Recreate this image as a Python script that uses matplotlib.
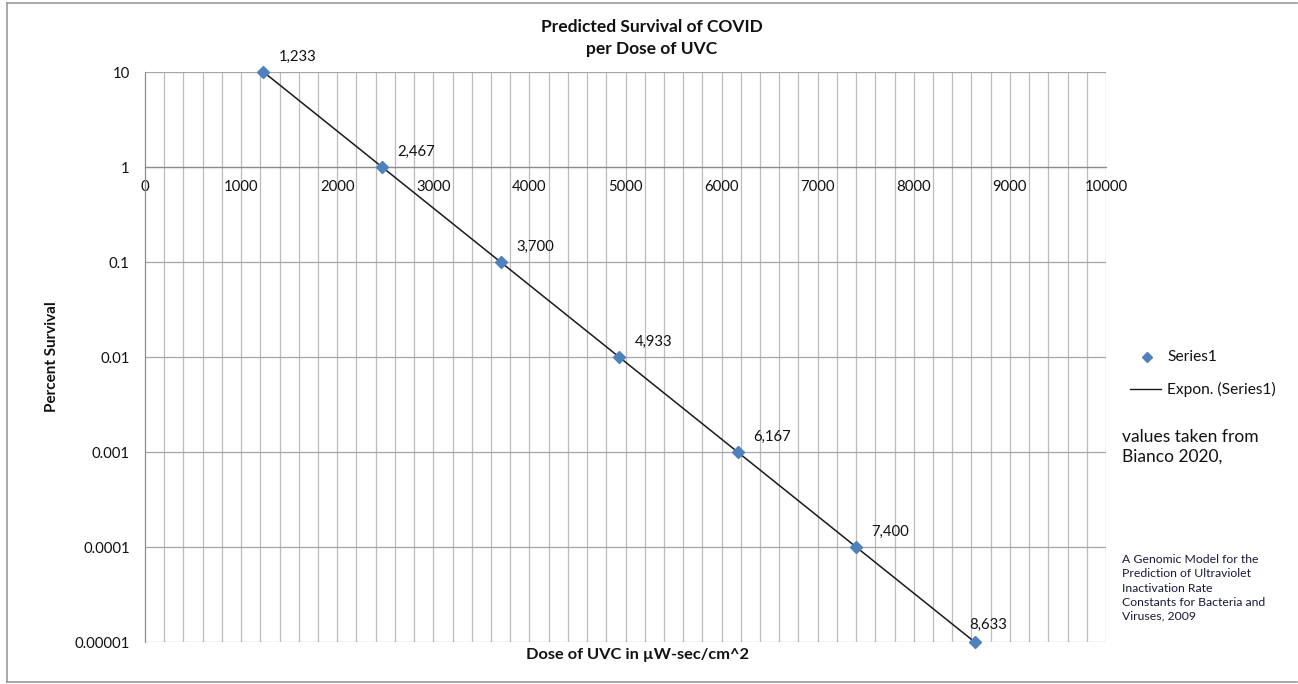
import numpy as np
import matplotlib
matplotlib.use("Agg")
import matplotlib.pyplot as plt
from matplotlib.lines import Line2D

dose = [1233, 2467, 3700, 4933, 6167, 7400, 8633]
survival = [10, 1, 0.1, 0.01, 0.001, 0.0001, 0.00001]
point_labels = ["1,233", "2,467", "3,700", "4,933", "6,167", "7,400", "8,633"]
y_ticks = [10, 1, 0.1, 0.01, 0.001, 0.0001, 0.00001]
y_tick_labels = ["10", "1", "0.1", "0.01", "0.001", "0.0001", "0.00001"]
x_ticks = [0, 1000, 2000, 3000, 4000, 5000, 6000, 7000, 8000, 9000, 10000]

plt.rcParams['font.family'] = ['Lato', 'DejaVu Sans']

W, H = 1298, 684
fig = plt.figure(figsize=(W / 100, H / 100), dpi=100)
fig.patch.set_facecolor('white')

def fx(px):
    return px / W

def fy(py):
    return 1 - py / H

# outer chart border
fig.add_artist(Line2D([fx(7), fx(1297)], [fy(3), fy(3)], color='#9a9a9a', lw=1.2))
fig.add_artist(Line2D([fx(7), fx(7)], [fy(3), fy(682)], color='#9a9a9a', lw=1.2))
fig.add_artist(Line2D([fx(7), fx(1297)], [fy(682), fy(682)], color='#9a9a9a', lw=1.2))

ax = fig.add_axes([fx(145), fy(642), fx(1106 - 145), (642 - 72) / H])
ax.set_yscale('log')
ax.set_xlim(0, 10000)
ax.set_ylim(1e-5, 10)

# gridlines
for xv in np.arange(200, 10001, 200):
    ax.axvline(xv, color='#bcbcbc', lw=0.9, zorder=1)
for yv in y_ticks:
    ax.axhline(yv, color='#a6a6a6', lw=0.9, zorder=1)

ax.set_yticks(y_ticks)
ax.set_yticklabels(y_tick_labels)
ax.yaxis.set_minor_locator(matplotlib.ticker.NullLocator())
ax.set_xticks(x_ticks)
ax.set_xticklabels([str(v) for v in x_ticks])
ax.tick_params(axis='both', length=0, labelsize=10.7, colors='#111111')
ax.tick_params(axis='y', pad=11)
ax.tick_params(axis='x', pad=9)

for s in ['top', 'right']:
    ax.spines[s].set_visible(False)
ax.spines['left'].set_color('#8c8c8c')
ax.spines['bottom'].set_color('#8c8c8c')
ax.spines['bottom'].set_position(('data', 1))
ax.spines['left'].set_linewidth(0.9)
ax.spines['bottom'].set_linewidth(0.9)

# exponential trendline
coef = np.polyfit(dose, np.log10(survival), 1)
xt = np.linspace(dose[0], dose[-1], 200)
ax.plot(xt, 10 ** np.polyval(coef, xt), color='#1a1a1a', lw=1.1, zorder=3)

ax.plot(dose, survival, linestyle='none', marker='D', markersize=6,
        color='#4F81BD', markeredgecolor='#4F81BD', zorder=4, clip_on=False)

for i, (xv, yv, lab) in enumerate(zip(dose, survival, point_labels)):
    off = (11, 11) if i < len(dose) - 1 else (-4, 12)
    ax.annotate(lab, (xv, yv), xytext=off, textcoords='offset points',
                fontsize=10.7, color='#111111', ha='left', va='center',
                annotation_clip=False)

# titles
fig.text(fx(652), fy(27), "Predicted Survival of COVID", ha='center', va='center',
         fontsize=12.5, fontweight='bold', color='#111111')
fig.text(fx(652), fy(49), "per Dose of UVC", ha='center', va='center',
         fontsize=12.5, fontweight='bold', color='#111111')
fig.text(fx(52), fy(357), "Percent Survival", ha='center', va='center', rotation=90,
         fontsize=11, fontweight='bold', color='#111111')
fig.text(fx(638), fy(655), "Dose of UVC in µW-sec/cm^2", ha='center', va='center',
         fontsize=11.8, fontweight='bold', color='#111111')

# legend
fig.add_artist(Line2D([fx(1147)], [fy(357)], marker='D', markersize=5.5, color='#4F81BD',
                      linestyle='none'))
fig.text(fx(1167), fy(357), "Series1", ha='left', va='center', fontsize=11.2, color='#111111')
fig.add_artist(Line2D([fx(1130), fx(1161)], [fy(389), fy(389)], color='#1a1a1a', lw=1.0))
fig.text(fx(1167), fy(389), "Expon. (Series1)", ha='left', va='center', fontsize=11.2,
         color='#111111')

fig.text(fx(1122), fy(447), "values taken from\nBianco 2020,", ha='left', va='center',
         fontsize=12.5, color='#111111', linespacing=1.3)
fig.text(fx(1122), fy(588),
         "A Genomic Model for the\nPrediction of Ultraviolet\nInactivation Rate\nConstants for Bacteria and\nViruses, 2009",
         ha='left', va='center', fontsize=8.8, color='#1a1a3a', linespacing=1.35)

fig.savefig("out.png", dpi=100, facecolor='white')
